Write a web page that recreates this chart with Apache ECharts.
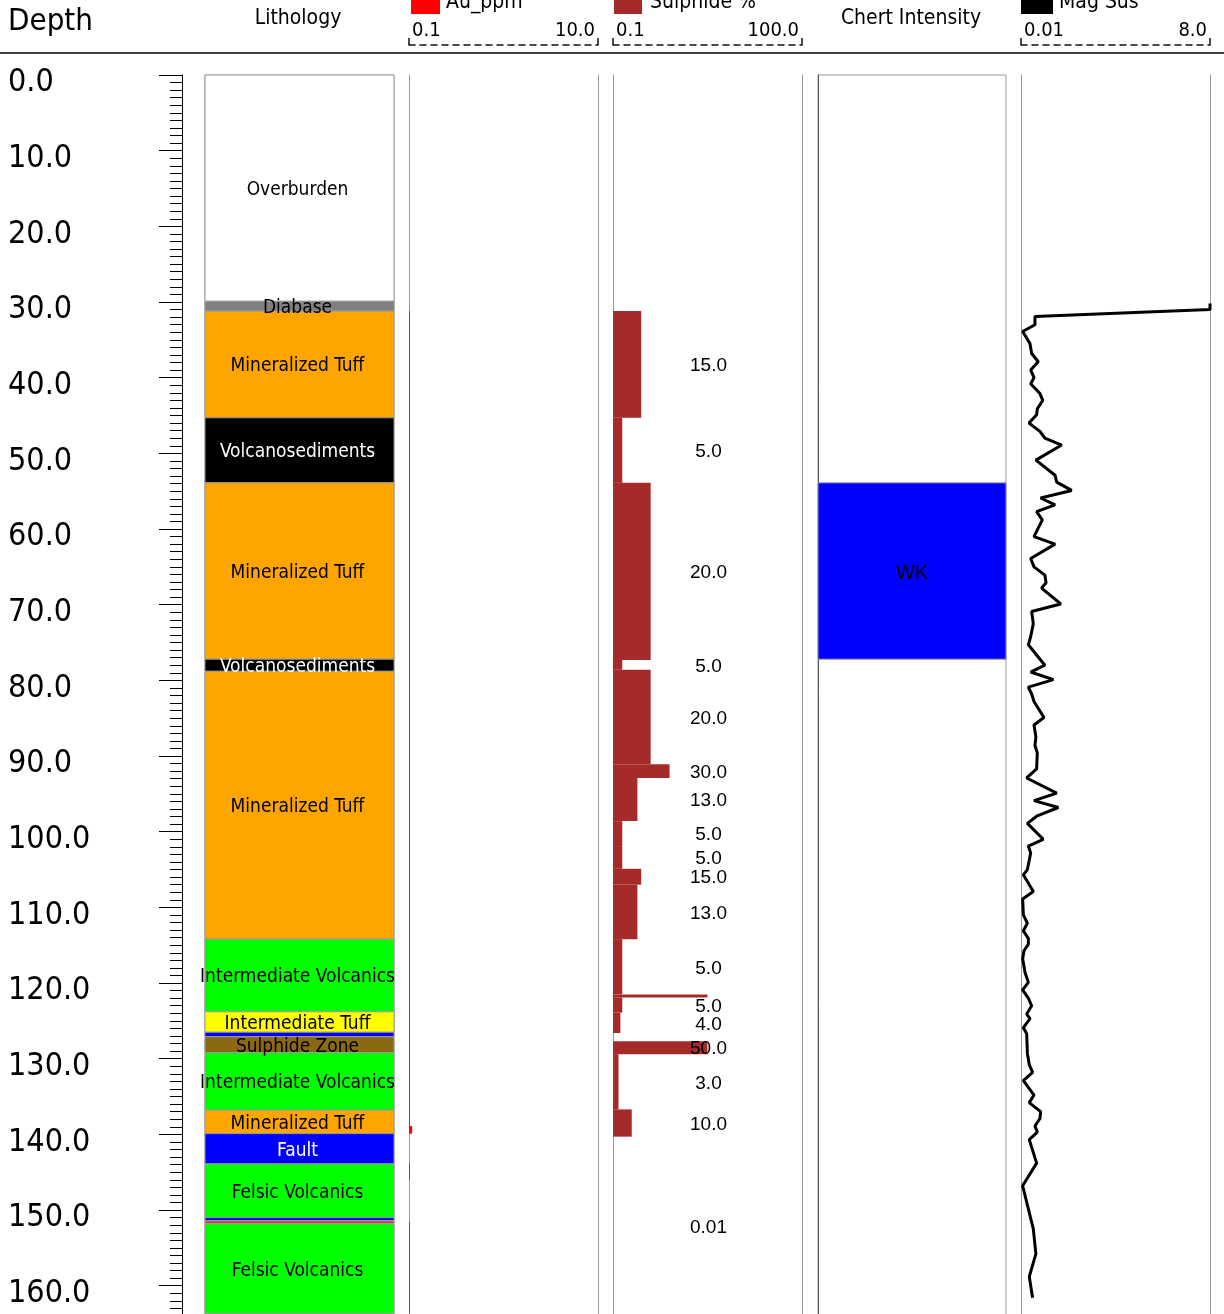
<!DOCTYPE html>
<html>
<head>
<meta charset="utf-8">
<title>Drill hole log</title>
<script src="https://cdn.jsdelivr.net/npm/echarts@6/dist/echarts.min.js"></script>
<style>
  html, body { margin: 0; padding: 0; background: #ffffff; }
  #chart { width: 1224px; height: 1314px; }
</style>
</head>
<body>
<div id="chart"></div>
<script>
// ---------- Data ----------
// Lithology intervals (metres down hole)
const lithTop    = [0, 29.9, 31.2, 45.3, 53.9, 77.2, 78.8, 114.2, 123.8, 126.5, 127.1, 129.2, 136.8, 139.9, 143.9, 151.0, 151.4, 151.8];
const lithBottom = [29.9, 31.2, 45.3, 53.9, 77.2, 78.8, 114.2, 123.8, 126.5, 127.1, 129.2, 136.8, 139.9, 143.9, 151.0, 151.4, 151.8, 163.7];
const lithCode   = ['OVB', 'DIAB', 'MTUF', 'VSED', 'MTUF', 'VSED', 'MTUF', 'IVOL', 'ITUF', 'QV', 'SULZ', 'IVOL', 'MTUF', 'FLT', 'FVOL', 'QV', 'MSUL', 'FVOL'];
const lithName = {
  OVB: 'Overburden', DIAB: 'Diabase', MTUF: 'Mineralized Tuff', VSED: 'Volcanosediments',
  IVOL: 'Intermediate Volcanics', ITUF: 'Intermediate Tuff', SULZ: 'Sulphide Zone',
  FLT: 'Fault', FVOL: 'Felsic Volcanics', QV: '', MSUL: ''
};

// Au (ppm) intervals
const auTop    = [31.2, 138.9, 143.8, 151.6];
const auBottom = [138.9, 139.9, 146.0, 163.7];
const auValue  = [0.102, 0.108, 0.102, 0.102];

// Sulphide (%) intervals
const sulTop    = [31.2, 45.3, 53.9, 77.3, 78.6, 91.1, 92.9, 98.6, 101.9, 104.9, 107.0, 114.2, 121.5, 121.9, 123.9, 127.7, 129.4, 136.7, 140.3];
const sulBottom = [45.3, 53.9, 77.3, 78.6, 91.1, 92.9, 98.6, 101.9, 104.9, 107.0, 114.2, 121.5, 121.9, 123.9, 126.6, 129.4, 136.7, 140.3, 163.9];
const sulValue  = [15, 5, 20, 5, 20, 30, 13, 5, 5, 15, 13, 5, 50, 5, 4, 50, 3, 10, 0.01];

// Chert intensity intervals
const chertTop    = [53.9];
const chertBottom = [77.2];
const chertCode   = ['WK'];

// Magnetic susceptibility readings
const magDepth = [
  30.2, 31.0, 31.9, 33.0, 33.9, 35.5, 36.8, 37.9, 39.0, 40.0,
  40.8, 42.1, 43.0, 44.1, 44.9, 46.0, 47.1, 48.0, 48.9, 50.9,
  52.9, 53.8, 54.9, 55.9, 56.8, 57.7, 58.8, 61.0, 62.0, 63.9,
  65.0, 66.1, 67.1, 67.8, 69.9, 70.9, 72.5, 74.2, 75.3, 78.0,
  78.9, 79.9, 80.9, 81.8, 82.8, 84.9, 85.9, 87.5, 88.6, 89.6,
  91.7, 92.9, 94.9, 95.9, 96.8, 97.9, 98.9, 101.0, 101.9, 102.8,
  105.0, 105.7, 107.9, 108.9, 111.0, 112.1, 113.1, 114.1, 114.9, 115.7,
  116.8, 118.6, 119.9, 120.9, 122.0, 123.0, 124.1, 124.7, 125.9, 126.7,
  129.3, 130.8, 131.8, 132.9, 134.8, 135.8, 137.0, 137.9, 138.9, 139.7,
  140.7, 143.8, 146.8, 152.5, 155.8, 158.8, 161.6
];
const magValue = [
  8.0, 8.0, 0.60, 0.60, 0.08, 0.39, 0.46, 0.74, 0.42, 0.56,
  0.42, 0.81, 0.93, 0.70, 0.67, 0.35, 0.81, 1.02, 1.73, 0.64,
  1.45, 1.52, 2.15, 0.84, 1.45, 0.67, 0.91, 0.56, 1.45, 0.42,
  0.56, 1.02, 1.07, 0.88, 1.69, 0.46, 0.53, 0.42, 0.32, 1.02,
  0.42, 1.38, 0.32, 0.46, 0.56, 0.98, 0.56, 0.64, 0.60, 0.70,
  0.67, 0.25, 1.52, 0.56, 1.59, 0.70, 0.28, 0.95, 0.32, 0.42,
  0.28, 0.11, 0.53, 0.08, 0.11, 0.28, 0.11, 0.32, 0.32, 0.14,
  0.08, 0.18, 0.32, 0.08, 0.32, 0.46, 0.25, 0.39, 0.11, 0.25,
  0.28, 0.36, 0.50, 0.11, 0.56, 0.36, 0.84, 0.81, 0.60, 0.70,
  0.36, 0.67, 0.08, 0.53, 0.64, 0.36, 0.50
];

// Track scale ranges
const auRange  = [0.1, 10];
const sulRange = [0.1, 100];
const magRange = [0.01, 8];
const depthRange = [0, 170];
const depthStep = 10;

// ---------- Styling ----------
const SANS = "'DejaVu Sans Condensed', 'DejaVu Sans', sans-serif";
const ARIAL = "'Liberation Sans', Arial, sans-serif";
const GRID_LINE = '#9a9a9a';
const LITH_FILL = {
  OVB: '#ffffff', DIAB: '#808080', MTUF: '#ffa500', VSED: '#000000', IVOL: '#00ff00',
  ITUF: '#ffff00', QV: '#0000ff', SULZ: '#8b6914', FLT: '#0000ff', FVOL: '#00ff00', MSUL: '#cd4545'
};
const LITH_LIGHT_TEXT = { VSED: true, FLT: true };
const CHERT_FILL = { WK: '#0000ff' };
const AU_COLOR = '#ff0000';
const SUL_COLOR = '#a52a2a';
const MAG_COLOR = '#000000';

const TOP = 75;
const PX_PER_M = 7.567;
const TRACK_H = depthRange[1] * PX_PER_M;
const LABEL_DROP = 2;   // interval labels sit a touch below the interval centre

// left edge and width of each track
const tracks = {
  depth: [182, 1],
  lith: [205, 189],
  au: [409, 189],
  sul: [613, 189],
  chert: [818, 188],
  mag: [1021, 189]
};

const fmtScale = v => (v < 0.1 ? v.toFixed(2) : v.toFixed(1));

function makeGrid(key, boxed) {
  const t = tracks[key];
  return {
    left: t[0], top: TOP, width: t[1], height: TRACK_H,
    outerBoundsMode: 'none', containLabel: false,
    show: !!boxed, backgroundColor: '#ffffff', borderColor: GRID_LINE, borderWidth: 1
  };
}

function depthAxisBase(gridIndex) {
  return {
    type: 'value', gridIndex, inverse: true, min: depthRange[0], max: depthRange[1],
    splitLine: { show: false }, axisLabel: { show: false }, axisTick: { show: false }
  };
}

function sideLine(gridIndex, position) {
  return Object.assign(depthAxisBase(gridIndex), {
    position,
    axisLine: { show: true, lineStyle: { color: GRID_LINE, width: 1 } }
  });
}

function hiddenX(gridIndex, min, max) {
  return { type: 'value', gridIndex, min, max, show: false, splitLine: { show: false } };
}

function scaleX(gridIndex, type, range) {
  const ax = {
    type, gridIndex, min: range[0], max: range[1], position: 'top', offset: 30,
    splitLine: { show: false }, minorSplitLine: { show: false },
    axisLine: { show: true, onZero: false, lineStyle: { color: '#111', width: 1.5, type: [6, 5] } },
    axisTick: { show: true, inside: false, length: 7, customValues: range.slice(),
      lineStyle: { color: '#111', width: 1.5 } },
    axisLabel: {
      show: true, margin: 4, customValues: range.slice(), formatter: fmtScale,
      alignMinLabel: 'left', alignMaxLabel: 'right',
      color: '#000', fontSize: 20, fontFamily: SANS, padding: [0, 3, 0, 3]
    }
  };
  if (type === 'log') ax.logBase = 10;
  return ax;
}

// ---------- Renderers ----------
function renderLith(params, api) {
  const i = params.dataIndex;
  const a = api.coord([0, api.value(0)]);
  const b = api.coord([1, api.value(1)]);
  const code = lithCode[i];
  const children = [{
    type: 'rect',
    shape: { x: a[0], y: a[1], width: b[0] - a[0], height: b[1] - a[1] },
    style: { fill: LITH_FILL[code], stroke: GRID_LINE, lineWidth: 1 }
  }];
  const label = lithName[code];
  if (label) {
    children.push({
      type: 'text', z2: 20,
      style: {
        text: label, x: (a[0] + b[0]) / 2 - 2, y: (a[1] + b[1]) / 2 + LABEL_DROP,
        align: 'center', verticalAlign: 'middle',
        fill: LITH_LIGHT_TEXT[code] ? '#ffffff' : '#000000',
        font: '19px ' + SANS
      }
    });
  }
  return { type: 'group', children };
}

function renderAu(params, api) {
  const a = api.coord([auRange[0], api.value(0)]);
  const b = api.coord([Math.max(api.value(2), auRange[0]), api.value(1)]);
  return {
    type: 'rect',
    shape: { x: a[0], y: a[1], width: Math.max(b[0] - a[0], 0), height: b[1] - a[1] },
    style: { fill: AU_COLOR }
  };
}

function renderSul(params, api) {
  const top = api.value(0), bottom = api.value(1), v = api.value(2);
  const a = api.coord([sulRange[0], top]);
  const b = api.coord([Math.max(v, sulRange[0]), bottom]);
  const cs = params.coordSys;
  const children = [{
    type: 'rect',
    shape: { x: a[0], y: a[1], width: Math.max(b[0] - a[0], 0), height: b[1] - a[1] },
    style: { fill: SUL_COLOR }
  }];
  // intervals thinner than a metre are left unlabelled
  if (bottom - top >= 1) {
    children.push({
      type: 'text', z2: 20,
      style: {
        text: fmtScale(v), x: cs.x + cs.width / 2 + 1, y: (a[1] + b[1]) / 2 + 1.5,
        align: 'center', verticalAlign: 'middle', fill: '#000000', font: '19px ' + ARIAL
      }
    });
  }
  return { type: 'group', children };
}

function renderChert(params, api) {
  const i = params.dataIndex;
  const a = api.coord([0, api.value(0)]);
  const b = api.coord([1, api.value(1)]);
  const code = chertCode[i];
  return {
    type: 'group',
    children: [{
      type: 'rect',
      shape: { x: a[0], y: a[1], width: b[0] - a[0], height: b[1] - a[1] },
      style: { fill: CHERT_FILL[code], stroke: GRID_LINE, lineWidth: 1 }
    }, {
      type: 'text', z2: 20,
      style: {
        text: code, x: (a[0] + b[0]) / 2, y: (a[1] + b[1]) / 2 + LABEL_DROP,
        align: 'center', verticalAlign: 'middle', fill: '#000000', font: '20px ' + ARIAL
      }
    }]
  };
}

// ---------- Header ----------
function headerText(text, x, y, size, align) {
  return {
    type: 'text', x, y,
    style: { text, fill: '#000', font: size + 'px ' + SANS, align: align || 'left', verticalAlign: 'middle' }
  };
}
function legendSwatch(x, w, color) {
  return { type: 'rect', shape: { x, y: -16, width: w, height: 30 }, style: { fill: color } };
}

const graphic = [
  { type: 'line', shape: { x1: 0, y1: 53, x2: 1224, y2: 53 }, style: { stroke: '#000', lineWidth: 1.5 } },
  headerText('Depth', 8, 22, 31),
  headerText('Lithology', 298, 19, 21, 'center'),
  legendSwatch(411, 29, AU_COLOR), headerText('Au_ppm', 446, 3, 21),
  legendSwatch(614, 28, SUL_COLOR), headerText('Sulphide %', 650, 3, 21),
  headerText('Chert Intensity', 911, 19, 21, 'center'),
  legendSwatch(1021, 32, MAG_COLOR), headerText('Mag Sus', 1059, 3, 21)
];

// ---------- Chart ----------
const chart = echarts.init(document.getElementById('chart'), null, { renderer: 'canvas' });

const option = {
  animation: false,
  backgroundColor: '#ffffff',
  graphic,
  grid: [
    makeGrid('depth', false),
    makeGrid('lith', true),
    makeGrid('au', false),
    makeGrid('sul', false),
    makeGrid('chert', true),
    makeGrid('mag', false)
  ],
  xAxis: [
    hiddenX(0, 0, 1),
    hiddenX(1, 0, 1),
    scaleX(2, 'log', auRange),
    scaleX(3, 'value', sulRange),
    hiddenX(4, 0, 1),
    scaleX(5, 'value', magRange)
  ],
  yAxis: [
    {
      type: 'value', gridIndex: 0, inverse: true, min: depthRange[0], max: depthRange[1],
      interval: depthStep, position: 'left',
      axisLine: { show: true, lineStyle: { color: '#000', width: 1 } },
      axisTick: { show: true, length: 23, lineStyle: { color: '#000', width: 1 } },
      minorTick: { show: true, splitNumber: 10, length: 12, lineStyle: { color: '#000', width: 1 } },
      splitLine: { show: false }, minorSplitLine: { show: false },
      axisLabel: {
        show: true, margin: 174, align: 'left', verticalAlign: 'top', lineHeight: 16,
        formatter: v => v.toFixed(1), color: '#000', fontSize: 32, fontFamily: SANS
      }
    },
    depthAxisBase(1),
    sideLine(2, 'left'), sideLine(2, 'right'),
    sideLine(3, 'left'), sideLine(3, 'right'),
    depthAxisBase(4),
    sideLine(5, 'left'), sideLine(5, 'right')
  ],
  series: [
    {
      name: 'Lithology', type: 'custom', xAxisIndex: 1, yAxisIndex: 1,
      renderItem: renderLith, clip: false,
      data: lithTop.map((t, i) => [t, lithBottom[i]])
    },
    {
      name: 'Au_ppm', type: 'custom', xAxisIndex: 2, yAxisIndex: 2,
      renderItem: renderAu,
      encode: { x: 2, y: [0, 1] },
      data: auTop.map((t, i) => [t, auBottom[i], auValue[i]])
    },
    {
      name: 'Sulphide %', type: 'custom', xAxisIndex: 3, yAxisIndex: 4,
      renderItem: renderSul,
      encode: { x: 2, y: [0, 1] },
      data: sulTop.map((t, i) => [t, sulBottom[i], sulValue[i]])
    },
    {
      name: 'Chert Intensity', type: 'custom', xAxisIndex: 4, yAxisIndex: 6,
      renderItem: renderChert,
      data: chertTop.map((t, i) => [t, chertBottom[i]])
    },
    {
      name: 'Mag Sus', type: 'line', xAxisIndex: 5, yAxisIndex: 7,
      showSymbol: false, symbol: 'none', z: 5,
      lineStyle: { color: MAG_COLOR, width: 3 },
      data: magDepth.map((d, i) => [magValue[i], d])
    }
  ]
};

chart.setOption(option);
</script>
</body>
</html>
